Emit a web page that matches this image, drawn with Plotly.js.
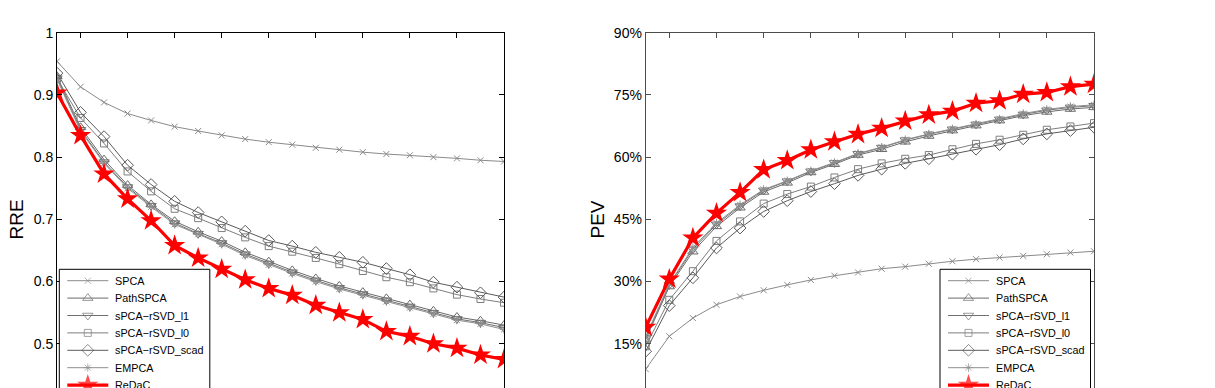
<!DOCTYPE html>
<html>
<head>
<meta charset="utf-8">
<script src="https://cdn.plot.ly/plotly-3.0.1.min.js"></script>
<style>
html, body { margin: 0; padding: 0; overflow: hidden; background: #fff; }
#plot { width: 1215px; height: 440px; }
</style>
</head>
<body>
<div id="plot"></div>
<script>
var steps = [1, 2, 3, 4, 5, 6, 7, 8, 9, 10, 11, 12, 13, 14, 15, 16, 17, 18, 19, 20];

var methods = ["SPCA", "PathSPCA", "sPCA\u2212rSVD_l1", "sPCA\u2212rSVD_l0", "sPCA\u2212rSVD_scad", "EMPCA", "ReDaC"];

// relative reconstruction error
var spcaRRE  = [0.954, 0.913, 0.888, 0.870, 0.859, 0.849, 0.842, 0.835, 0.829, 0.824, 0.820, 0.815, 0.812, 0.808, 0.805, 0.803, 0.800, 0.798, 0.795, 0.793];
var pathRRE  = [0.930, 0.848, 0.796, 0.755, 0.724, 0.697, 0.680, 0.665, 0.647, 0.632, 0.618, 0.605, 0.593, 0.583, 0.573, 0.563, 0.553, 0.543, 0.537, 0.530];
var l1RRE    = [0.927, 0.844, 0.792, 0.752, 0.722, 0.694, 0.677, 0.662, 0.644, 0.629, 0.615, 0.602, 0.590, 0.580, 0.570, 0.560, 0.550, 0.540, 0.534, 0.526];
var l0RRE    = [0.926, 0.863, 0.822, 0.777, 0.745, 0.717, 0.702, 0.686, 0.671, 0.657, 0.648, 0.638, 0.628, 0.617, 0.607, 0.599, 0.589, 0.579, 0.572, 0.566];
var scadRRE  = [0.935, 0.872, 0.833, 0.787, 0.756, 0.729, 0.711, 0.696, 0.681, 0.666, 0.657, 0.647, 0.639, 0.631, 0.621, 0.611, 0.599, 0.591, 0.582, 0.575];
var empcaRRE = [0.925, 0.842, 0.790, 0.750, 0.720, 0.692, 0.676, 0.660, 0.642, 0.627, 0.613, 0.600, 0.588, 0.578, 0.568, 0.558, 0.548, 0.538, 0.532, 0.523];
var redacRRE = [0.903, 0.835, 0.773, 0.733, 0.698, 0.658, 0.638, 0.620, 0.603, 0.589, 0.578, 0.562, 0.550, 0.539, 0.520, 0.512, 0.500, 0.493, 0.482, 0.475];

// percentage of explained variance
var spcaPEV  = [8.9, 16.8, 21.2, 24.4, 26.4, 27.9, 29.2, 30.4, 31.4, 32.2, 33.1, 33.6, 34.3, 34.9, 35.4, 35.8, 36.2, 36.6, 37.0, 37.3];
var pathPEV  = [16.0, 28.8, 37.2, 43.3, 47.8, 51.6, 53.8, 56.3, 58.3, 60.5, 61.9, 63.7, 65.1, 66.4, 67.6, 68.8, 70.0, 70.9, 71.6, 72.0];
var l1PEV    = [16.5, 29.2, 37.8, 43.8, 48.2, 52.0, 54.2, 56.6, 58.6, 60.8, 62.3, 64.1, 65.5, 66.7, 67.9, 69.1, 70.3, 71.3, 72.0, 72.4];
var l0PEV    = [14.4, 25.6, 32.5, 39.8, 44.5, 48.8, 51.1, 52.9, 55.1, 57.1, 58.5, 59.6, 60.5, 61.9, 63.2, 64.2, 65.4, 66.6, 67.4, 68.2];
var scadPEV  = [13.2, 24.2, 30.9, 38.1, 42.9, 46.9, 49.5, 51.7, 53.6, 55.6, 57.1, 58.5, 59.6, 60.7, 61.9, 63.0, 64.4, 65.6, 66.4, 67.2];
var empcaPEV = [16.8, 29.4, 38.2, 44.1, 48.5, 52.2, 54.3, 56.7, 58.7, 60.9, 62.4, 64.2, 65.6, 66.8, 68.0, 69.2, 70.5, 71.5, 72.2, 72.6];
var redacPEV = [19.0, 30.6, 40.5, 46.5, 51.5, 57.0, 59.2, 61.8, 63.7, 65.5, 67.0, 68.7, 70.2, 71.1, 73.0, 73.6, 75.2, 75.6, 77.0, 77.6];

// only the ticks that show inside the window
var rreTicks = [0.5, 0.6, 0.7, 0.8, 0.9, 1];
var rreLabels = ["0.5", "0.6", "0.7", "0.8", "0.9", "1"];
var pevTicks = [15, 30, 45, 60, 75, 90];
var pevLabels = ["15%", "30%", "45%", "60%", "75%", "90%"];

var W = 1215, H = 440;
var FONT = "Liberation Sans, Arial, Helvetica, sans-serif";

var styles = [
    { color: "#8a8a8a", symbol: "x-thin-open", size: 6, width: 1 },
    { color: "#6a6a6a", symbol: "triangle-up-open", size: 9, width: 1 },
    { color: "#707070", symbol: "triangle-down-open", size: 9, width: 1 },
    { color: "#7e7e7e", symbol: "square-open", size: 7, width: 1 },
    { color: "#5a5a5a", symbol: "diamond-open", size: 9, width: 1 },
    { color: "#8f8f8f", symbol: "asterisk-open", size: 7, width: 1 },
    { color: "#ff0000", symbol: "star", size: 16, width: 3.2 }
];

function seriesTraces(list, xa, ya) {
    var out = [];
    for (var i = 0; i < list.length; i++) {
        var s = styles[i];
        out.push({
            x: steps, y: list[i], xaxis: xa, yaxis: ya,
            type: "scatter", mode: "lines+markers", name: methods[i], showlegend: false,
            line: { color: s.color, width: s.width },
            marker: {
                symbol: s.symbol, size: s.size, color: s.color,
                line: { color: s.color, width: i == 6 ? 0 : 1 }
            },
            hoverinfo: "skip"
        });
    }
    return out;
}

// hand-made legend, drawn in pixel units on an overlay axis pair
function legendItems(left, top, traces, shapes, annots) {
    for (var i = 0; i < methods.length; i++) {
        var s = styles[i];
        var y = top + 11.4 + i * 17.4;
        traces.push({
            x: [left + 8, left + 28.5, left + 49], y: [y, y, y],
            xaxis: "x3", yaxis: "y3", type: "scatter", mode: "lines+markers", showlegend: false,
            line: { color: s.color, width: s.width },
            marker: { symbol: s.symbol, size: [0, s.size, 0], color: s.color,
                line: { color: s.color, width: i == 6 ? 0 : 1 } },
            hoverinfo: "skip"
        });
        annots.push({
            xref: "x3", yref: "y3", x: left + 53.5, y: y, text: methods[i],
            showarrow: false, xanchor: "left", yanchor: "middle",
            font: { family: FONT, size: 10.8, color: "#000" }
        });
    }
    shapes.push({
        type: "rect", xref: "x3", yref: "y3", layer: "below",
        x0: left, x1: left + 150.5, y0: top, y1: top + 128,
        fillcolor: "#fff", line: { color: "#000", width: 1 }
    });
}

function axisStyle(domain, col) {
    return {
        domain: domain, showgrid: false, zeroline: false,
        showline: true, mirror: "ticks", linecolor: col, linewidth: 1,
        ticks: "inside", ticklen: 5, tickcolor: col, tickwidth: 1,
        tickfont: { family: FONT, size: 14, color: "#000" }
    };
}

var yDom = [1 - 406 / H, 1 - 32.7 / H];

var traces = []
    .concat(seriesTraces([spcaRRE, pathRRE, l1RRE, l0RRE, scadRRE, empcaRRE, redacRRE], "x", "y"))
    .concat(seriesTraces([spcaPEV, pathPEV, l1PEV, l0PEV, scadPEV, empcaPEV, redacPEV], "x2", "y2"));

var shapes = [];
var annots = [
    { xref: "x3", yref: "y3", x: 16, y: 219.5, text: "RRE", textangle: -90, showarrow: false,
      font: { family: FONT, size: 19, color: "#000" } },
    { xref: "x3", yref: "y3", x: 597, y: 219.5, text: "PEV", textangle: -90, showarrow: false,
      font: { family: FONT, size: 19, color: "#000" } }
];
legendItems(59.3, 269.3, traces, shapes, annots);
legendItems(940, 269.3, traces, shapes, annots);

// bottom tick labels fall outside the photographed window, so they are not drawn
var xa1 = axisStyle([57 / W, 504 / W], "#000");
xa1.range = [1, 20]; xa1.tick0 = 0; xa1.dtick = 2; xa1.showticklabels = false;
var ya1 = axisStyle(yDom, "#000");
ya1.range = [0.4, 1]; ya1.tickvals = rreTicks; ya1.ticktext = rreLabels;

var xa2 = axisStyle([645.7 / W, 1094 / W], "#4d4d4d");
xa2.range = [1, 20]; xa2.tick0 = 0; xa2.dtick = 2; xa2.anchor = "y2"; xa2.showticklabels = false;
var ya2 = axisStyle(yDom, "#4d4d4d");
ya2.range = [0, 90]; ya2.tickvals = pevTicks; ya2.ticktext = pevLabels; ya2.anchor = "x2";

var layout = {
    width: W, height: H,
    margin: { l: 0, r: 0, t: 0, b: 0 },
    paper_bgcolor: "#fff", plot_bgcolor: "rgba(0,0,0,0)",
    showlegend: false,
    xaxis: xa1, yaxis: ya1, xaxis2: xa2, yaxis2: ya2,
    xaxis3: { domain: [0, 1], range: [0, W], visible: false, fixedrange: true, anchor: "y3" },
    yaxis3: { domain: [0, 1], range: [H, 0], visible: false, fixedrange: true, anchor: "x3" },
    shapes: shapes,
    annotations: annots
};

Plotly.newPlot("plot", traces, layout, { staticPlot: true });
</script>
</body>
</html>
